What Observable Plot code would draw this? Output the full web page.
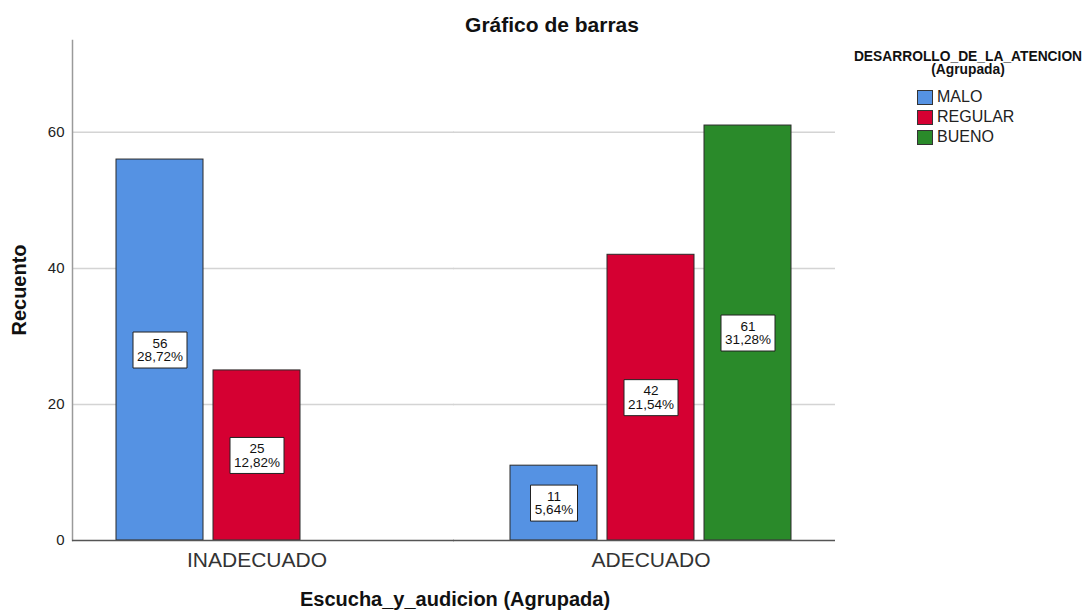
<!DOCTYPE html>
<html><head><meta charset="utf-8">
<script src="https://cdn.jsdelivr.net/npm/d3@7"></script>
<script src="https://cdn.jsdelivr.net/npm/@observablehq/plot@0.6"></script>
<style>
body{margin:0;background:#fff;font-family:Arial,"Liberation Sans",sans-serif;}
#wrap{position:relative;width:1086px;height:610px;overflow:hidden;}
#chart{position:absolute;left:0;top:0;}
.t{position:absolute;white-space:nowrap;color:#111;}
#title{left:552px;top:25px;transform:translate(-50%,-50%);font-weight:bold;font-size:21px;}
#ylab{left:19px;top:290px;transform:translate(-50%,-50%) rotate(-90deg);font-weight:bold;font-size:20px;}
#xlab{left:455px;top:599px;transform:translate(-50%,-50%);font-weight:bold;font-size:20px;}
#legend{position:absolute;left:850px;top:50px;width:236px;}
#legend .lt{text-align:center;font-weight:bold;font-size:13.8px;line-height:13px;color:#111;width:236px;}
#legend .items{margin-left:67px;margin-top:11px;}
#legend .it{display:flex;align-items:center;height:20px;font-size:16px;color:#222;}
#legend .sw{width:16px;height:15px;border:1px solid #333;margin-right:4px;box-sizing:border-box;}
</style>
</head><body>
<div id="wrap">
  <div id="chart"></div>
  <div class="t" id="title">Gráfico de barras</div>
  <div class="t" id="ylab">Recuento</div>
  <div class="t" id="xlab">Escucha_y_audicion (Agrupada)</div>
  <div id="legend"><div class="lt">DESARROLLO_DE_LA_ATENCION<br>(Agrupada)</div><div class="items"></div></div>
</div>
<script>
const groups = ["INADECUADO", "ADECUADO"];
const categories = ["MALO", "REGULAR", "BUENO"];
const colors = ["#5592e3", "#d50032", "#2a8a2a"];
const barGroups = ["INADECUADO", "INADECUADO", "ADECUADO", "ADECUADO", "ADECUADO"];
const barCategories = ["MALO", "REGULAR", "MALO", "REGULAR", "BUENO"];
const counts = [56, 25, 11, 42, 61];
const percentLabels = ["28,72%", "12,82%", "5,64%", "21,54%", "31,28%"];
const yTicks = [0, 20, 40, 60];

const data = counts.map((v, i) => ({group: barGroups[i], cat: barCategories[i], value: v, pct: percentLabels[i]}));
const gridTicks = yTicks.filter(t => t > 0);

function boxSymbol(w, h) {
  return {draw(ctx) { ctx.rect(-w / 2, -h / 2, w, h); }};
}

const chart = Plot.plot({
  width: 1086, height: 610,
  marginLeft: 72, marginRight: 251, marginTop: 40, marginBottom: 70,
  style: {fontFamily: "Arial, 'Liberation Sans', sans-serif", background: "white", color: "#222"},
  fx: {domain: groups, paddingInner: 0.0635, paddingOuter: 0, label: null},
  x: {domain: categories, paddingInner: 0.1031, paddingOuter: 0.4536, axis: null},
  y: {domain: [0, 73.5], axis: null},
  color: {domain: categories, range: colors},
  marks: [
    Plot.ruleY(gridTicks, {fx: () => groups[0], insetRight: -13, stroke: "#d4d4d4", strokeWidth: 1.5}),
    Plot.ruleY(gridTicks, {fx: () => groups[1], insetLeft: -13, stroke: "#d4d4d4", strokeWidth: 1.5}),
    Plot.barY(data, {fx: "group", x: "cat", y: "value", fill: "cat", stroke: "#2b2b2b", strokeWidth: 1}),
    Plot.frame({anchor: "left", facet: "super", stroke: "#9a9a9a", strokeWidth: 1.5}),
    Plot.ruleY([0], {fx: () => groups[0], insetRight: -13, stroke: "#555", strokeWidth: 1.5}),
    Plot.ruleY([0], {fx: () => groups[1], insetLeft: -13, stroke: "#555", strokeWidth: 1.5}),
    Plot.axisY({ticks: yTicks, tickSize: 0, tickPadding: 8, fontSize: 15, label: null}),
    Plot.axisFx({anchor: "bottom", tickSize: 0, tickPadding: 12, fontSize: 21, label: null, fill: "#333"}),
    Plot.dot(data.filter(d => d.pct.length > 5), {fx: "group", x: "cat", y: d => d.value / 2, symbol: boxSymbol(54, 36), fill: "white", stroke: "#222", strokeWidth: 1}),
    Plot.dot(data.filter(d => d.pct.length <= 5), {fx: "group", x: "cat", y: d => d.value / 2, symbol: boxSymbol(47, 36), fill: "white", stroke: "#222", strokeWidth: 1}),
    Plot.text(data, {fx: "group", x: "cat", y: d => d.value / 2, text: d => `${d.value}\n${d.pct}`, fontSize: 13.5, lineHeight: 1.0, fill: "#111"})
  ]
});
document.getElementById("chart").appendChild(chart);

const items = document.querySelector("#legend .items");
categories.forEach((c, i) => {
  const it = document.createElement("div");
  it.className = "it";
  const sw = document.createElement("div");
  sw.className = "sw";
  sw.style.background = colors[i];
  const lb = document.createElement("span");
  lb.textContent = c;
  it.appendChild(sw); it.appendChild(lb);
  items.appendChild(it);
});
</script>
</body></html>
